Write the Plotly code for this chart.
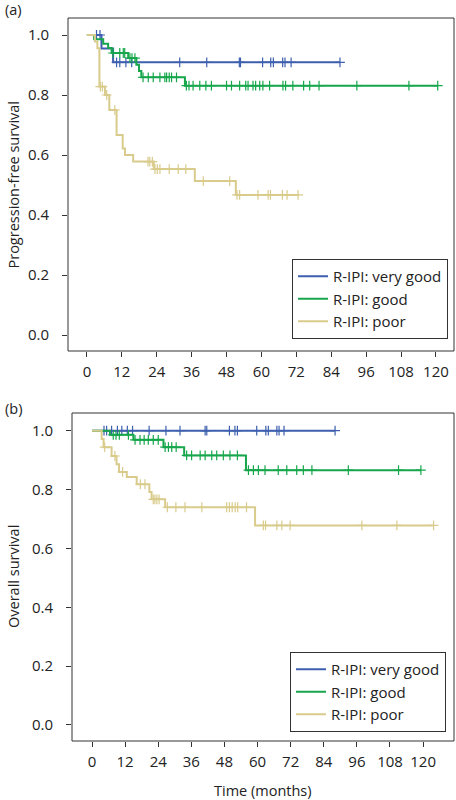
import numpy as np
import plotly.graph_objects as go

# ---------------- Data (months, survival probability) ----------------
groups = ["R-IPI: very good", "R-IPI: good", "R-IPI: poor"]
colors = ["#3d5fae", "#17a64c", "#d9cb8b"]

# (a) Progression-free survival
pfs_vg_t = [0, 5.0, 9.0]
pfs_vg_s = [1.0, 0.955, 0.909]
pfs_vg_end = 87.0
pfs_vg_cens = [3.3, 4.5, 10.2, 11.3, 13.4, 15.4, 31.9, 41.2, 52.4, 52.8, 60.4,
               63.2, 64.1, 67.3, 68.1, 70.2, 87.0]

pfs_g_t = [0, 2.5, 5.6, 7.3, 8.5, 14.2, 17.0, 17.9, 18.7, 33.7]
pfs_g_s = [1.0, 0.986, 0.971, 0.957, 0.940, 0.923, 0.901, 0.880, 0.859, 0.831]
pfs_g_end = 120.6
pfs_g_cens = [9.0, 11.3, 12.5, 13.0, 14.8, 15.5, 16.5, 19.3, 21.1, 22.8, 25.1,
              26.8, 27.4, 28.3, 29.1, 30.8, 34.2, 35.1, 36.5, 38.8, 40.9, 42.8,
              48.0, 49.7, 52.5, 54.6, 55.4, 57.1, 58.0, 59.4, 60.5, 62.8, 67.4,
              68.3, 70.8, 74.5, 76.6, 79.8, 92.8, 110.7, 120.6]

pfs_p_t = [0, 2.8, 3.6, 4.3, 6.2, 7.7, 10.2, 12.3, 13.1, 15.9, 23.0, 37.1, 51.2]
pfs_p_s = [1.0, 0.978, 0.956, 0.828, 0.800, 0.750, 0.667, 0.622, 0.600, 0.578,
           0.553, 0.513, 0.467]
pfs_p_end = 72.6
pfs_p_cens = [4.6, 5.3, 6.8, 9.6, 21.0, 21.6, 22.5, 23.4, 24.2, 25.1, 28.3, 31.4,
              34.0, 40.0, 49.1, 51.6, 52.5, 58.8, 62.3, 63.1, 67.2, 68.8, 72.6]

# (b) Overall survival
os_vg_t = [0]
os_vg_s = [1.0]
os_vg_end = 88.1
os_vg_cens = [4.35, 5.3, 7.1, 9.2, 10.8, 12.8, 14.7, 20.7, 26.8, 31.9, 41.0, 41.6,
              49.8, 51.8, 52.7, 59.7, 63.0, 63.9, 67.0, 67.8, 69.6, 88.1]

os_g_t = [0, 6.5, 15.0, 25.9, 33.4, 55.8]
os_g_s = [1.0, 0.986, 0.969, 0.944, 0.916, 0.866]
os_g_end = 119.2
os_g_cens = [7.7, 8.7, 9.9, 13.2, 15.6, 17.4, 18.9, 20.4, 22.2, 24.0, 26.5, 27.7,
             28.9, 30.5, 34.3, 36.1, 39.2, 41.0, 43.4, 45.2, 47.6, 50.0, 52.7,
             56.7, 58.5, 60.3, 62.7, 67.5, 70.6, 74.2, 76.6, 79.7, 92.9, 111.1,
             119.2]

os_p_t = [0, 3.5, 4.2, 7.1, 8.9, 9.8, 12.6, 16.2, 20.8, 21.6, 26.5, 59.1]
os_p_s = [1.0, 0.972, 0.944, 0.914, 0.886, 0.860, 0.843, 0.818, 0.792, 0.767,
          0.740, 0.678]
os_p_end = 123.8
os_p_cens = [4.6, 8.3, 11.1, 17.5, 19.2, 22.2, 22.8, 23.5, 24.3, 27.3, 30.4, 33.7,
             39.8, 48.8, 49.8, 50.8, 51.9, 52.8, 56.0, 62.1, 62.9, 67.0, 68.8,
             71.8, 97.8, 110.5, 123.8]

x_ticks = list(range(0, 121, 12))
y_ticks = [0.0, 0.2, 0.4, 0.6, 0.8, 1.0]

panels = [
    [(pfs_vg_t, pfs_vg_s, pfs_vg_end, pfs_vg_cens),
     (pfs_g_t, pfs_g_s, pfs_g_end, pfs_g_cens),
     (pfs_p_t, pfs_p_s, pfs_p_end, pfs_p_cens)],
    [(os_vg_t, os_vg_s, os_vg_end, os_vg_cens),
     (os_g_t, os_g_s, os_g_end, os_g_cens),
     (os_p_t, os_p_s, os_p_end, os_p_cens)],
]

FONT = "Open Sans"
TXT = "#222222"
LINE = "#333333"
fig = go.Figure()

for pi, panel in enumerate(panels):
    xa = "x" if pi == 0 else "x2"
    ya = "y" if pi == 0 else "y2"
    leg = "legend" if pi == 0 else "legend2"
    for gi, (t, s, end, cens) in enumerate(panel):
        xs = list(t) + [end]
        ys = list(s) + [s[-1]]
        fig.add_trace(go.Scatter(
            x=xs, y=ys, mode="lines", line=dict(color=colors[gi], width=2, shape="hv"),
            name=groups[gi], legend=leg, legendgroup=f"{pi}-{gi}",
            xaxis=xa, yaxis=ya, hoverinfo="skip"))
        ta = np.array(t)
        sa = np.array(s)
        idx = np.searchsorted(ta, np.array(cens), side="right") - 1
        fig.add_trace(go.Scatter(
            x=cens, y=sa[idx].tolist(), mode="markers",
            marker=dict(symbol="cross-thin", size=7,
                        line=dict(color=colors[gi], width=1.2)),
            showlegend=False, legendgroup=f"{pi}-{gi}",
            xaxis=xa, yaxis=ya, hoverinfo="skip"))

W, H = 456, 800
axis_common = dict(showgrid=False, zeroline=False, showline=False,
                   ticks="outside", tickcolor=LINE, ticklen=5, tickwidth=1,
                   tickfont=dict(family=FONT, size=15, color=TXT),
                   automargin=False)

legend_common = dict(xanchor="right", yanchor="bottom",
                     bordercolor=LINE, borderwidth=1, bgcolor="white",
                     font=dict(family=FONT, size=15, color=TXT),
                     tracegroupgap=0, itemwidth=30)

TITLE_FONT = dict(family=FONT, size=14.5, color=TXT)

fig.update_layout(
    width=W, height=H, autosize=False,
    margin=dict(l=0, r=0, t=0, b=0),
    paper_bgcolor="white", plot_bgcolor="white",
    font=dict(family=FONT, size=14, color=TXT),
    xaxis=dict(domain=[68 / W, 454 / W], anchor="y", range=[-6.5, 126.2],
               tickvals=x_ticks, ticklabelstandoff=2, **axis_common),
    yaxis=dict(domain=[1 - 351 / H, 1 - 18 / H], anchor="x", range=[-0.0533, 1.0567],
               tickvals=y_ticks, tickformat=".1f", ticklabelstandoff=10, **axis_common),
    xaxis2=dict(domain=[72 / W, 454 / W], anchor="y2", range=[-7.25, 131.2],
                tickvals=x_ticks, ticklabelstandoff=2, **axis_common),
    yaxis2=dict(domain=[1 - 741 / H, 1 - 413 / H], anchor="x2", range=[-0.0544, 1.0602],
                tickvals=y_ticks, tickformat=".1f", ticklabelstandoff=10, **axis_common),
    legend=dict(x=448 / W, y=1 - 339 / H, **legend_common),
    legend2=dict(x=446 / W, y=1 - 732 / H, **legend_common),
    shapes=[
        dict(type="rect", xref="x domain", yref="y domain", x0=0, x1=1, y0=0, y1=1,
             line=dict(color=LINE, width=1), fillcolor="rgba(0,0,0,0)", layer="above"),
        dict(type="rect", xref="x2 domain", yref="y2 domain", x0=0, x1=1, y0=0, y1=1,
             line=dict(color=LINE, width=1), fillcolor="rgba(0,0,0,0)", layer="above"),
    ],
    annotations=[
        dict(text="(a)", x=3 / W, y=1 - 10 / H, xref="paper", yref="paper",
             xanchor="left", yanchor="middle", showarrow=False, font=TITLE_FONT),
        dict(text="(b)", x=3 / W, y=1 - 408 / H, xref="paper", yref="paper",
             xanchor="left", yanchor="middle", showarrow=False, font=TITLE_FONT),
        dict(text="Progression-free survival", x=13 / W, y=1 - 184.5 / H,
             xref="paper", yref="paper", textangle=-90, showarrow=False,
             xanchor="center", yanchor="middle", font=TITLE_FONT),
        dict(text="Overall survival", x=13 / W, y=1 - 577 / H,
             xref="paper", yref="paper", textangle=-90, showarrow=False,
             xanchor="center", yanchor="middle", font=TITLE_FONT),
        dict(text="Time (months)", x=263 / W, y=1 - 790 / H,
             xref="paper", yref="paper", showarrow=False,
             xanchor="center", yanchor="middle", font=TITLE_FONT),
    ],
)

fig.write_html(
    "out.html",
    config={"displayModeBar": False, "staticPlot": True},
    post_script="document.body.style.margin='0';"
                "document.documentElement.style.overflow='hidden';",
)
